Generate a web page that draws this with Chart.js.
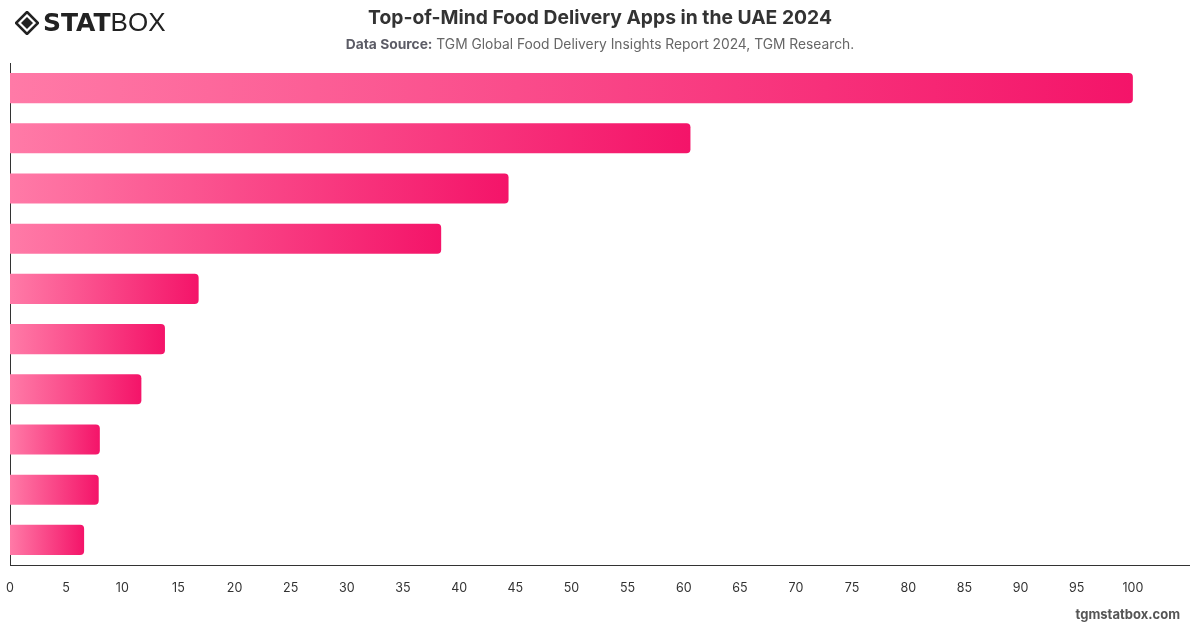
<!DOCTYPE html>
<html>
<head>
<meta charset="utf-8">
<script src="https://cdn.jsdelivr.net/npm/chart.js@4"></script>
<style>
	html, body { margin: 0; padding: 0; background: #fff; }
	#wrap { position: relative; width: 1200px; height: 628px; font-family: Inter, "Noto Sans", sans-serif; }
	#myChart { position: absolute; left: 0; top: 0; }
	#logo { position: absolute; left: 15px; top: 7px; display: flex; align-items: center; }
	#logo .stat { font-family: "DejaVu Sans", sans-serif; font-weight: 900; font-size: 25px; color: #222; margin-left: 4px; }
	#logo .box { font-family: "Liberation Sans", sans-serif; font-weight: 400; font-size: 26px; color: #222; }
	#title { position: absolute; left: 0; width: 1200px; top: 5px; text-align: center; font-size: 19.3px; font-weight: 700; color: #333; }
	#subtitle { position: absolute; left: 0; width: 1200px; top: 36px; text-align: center; font-size: 13.8px; color: #666; }
	#subtitle b { font-weight: 700; color: #5c5c66; }
	#footer { position: absolute; right: 20px; top: 606px; font-size: 13px; font-weight: 700; color: #555; }
</style>
</head>
<body>
<div id="wrap">
	<canvas id="myChart" width="1200" height="628"></canvas>
	<div id="logo">
		<svg width="24" height="24" viewBox="0 0 24 24">
			<path d="M12 1 L23 12 L12 23 L1 12 Z" fill="none" stroke="#222" stroke-width="2.6"/>
			<path d="M12 6 L18 12 L12 18 L6 12 Z" fill="#222"/>
		</svg>
		<span class="stat">STAT</span><span class="box">BOX</span>
	</div>
	<div id="title">Top-of-Mind Food Delivery Apps in the UAE 2024</div>
	<div id="subtitle"><b>Data Source:</b> TGM Global Food Delivery Insights Report 2024, TGM Research.</div>
	<div id="footer">tgmstatbox.com</div>
</div>
<script>
// categories are not printed on the chart, so they stay generic
const categories = ['App 1', 'App 2', 'App 3', 'App 4', 'App 5', 'App 6', 'App 7', 'App 8', 'App 9', 'App 10'];
const shares = [100, 60.6, 44.4, 38.4, 16.8, 13.8, 11.7, 8.0, 7.9, 6.6];
const tickValues = [0, 5, 10, 15, 20, 25, 30, 35, 40, 45, 50, 55, 60, 65, 70, 75, 80, 85, 90, 95, 100];

// gradient from light pink at the left to deep pink at the bar end
function barGradient(context) {
	const chart = context.chart;
	const area = chart.chartArea;
	if (!area || context.parsed == null) return '#f5176b';
	const x0 = chart.scales.x.getPixelForValue(0);
	const x1 = chart.scales.x.getPixelForValue(context.parsed.x);
	const g = chart.ctx.createLinearGradient(x0, 0, Math.max(x1, x0 + 1), 0);
	g.addColorStop(0, '#ff7aa7');
	g.addColorStop(1, '#f41469');
	return g;
}

const ctx = document.getElementById('myChart');
const myChart = new Chart(ctx, {
	type: 'bar',
	data: {
		labels: categories,
		datasets: [{
			label: 'Share',
			data: shares,
			backgroundColor: barGradient,
			borderRadius: 4,
			borderSkipped: 'start',
			barPercentage: 0.6,
			categoryPercentage: 1
		}]
	},
	options: {
		indexAxis: 'y',
		responsive: false,
		animation: false,
		layout: { padding: { left: 10, right: 11, top: 63, bottom: 16 } },
		plugins: {
			legend: { display: false },
			title: { display: false },
			tooltip: { enabled: false }
		},
		scales: {
			x: {
				min: 0,
				max: 105,
				afterBuildTicks: function (axis) {
					axis.ticks = tickValues.map(function (v) { return { value: v }; });
				},
				afterFit: function (axis) {
					// the first label does not need extra room on the left
					axis.paddingLeft = 0;
				},
				grid: { display: false, drawTicks: false },
				border: { display: true, color: '#333', width: 1 },
				ticks: {
					color: '#333',
					padding: 16,
					font: { family: 'Inter', size: 12.5 }
				}
			},
			y: {
				grid: { display: false, drawTicks: false },
				border: { display: true, color: '#333', width: 1 },
				ticks: { display: false }
			}
		}
	}
});
</script>
</body>
</html>
